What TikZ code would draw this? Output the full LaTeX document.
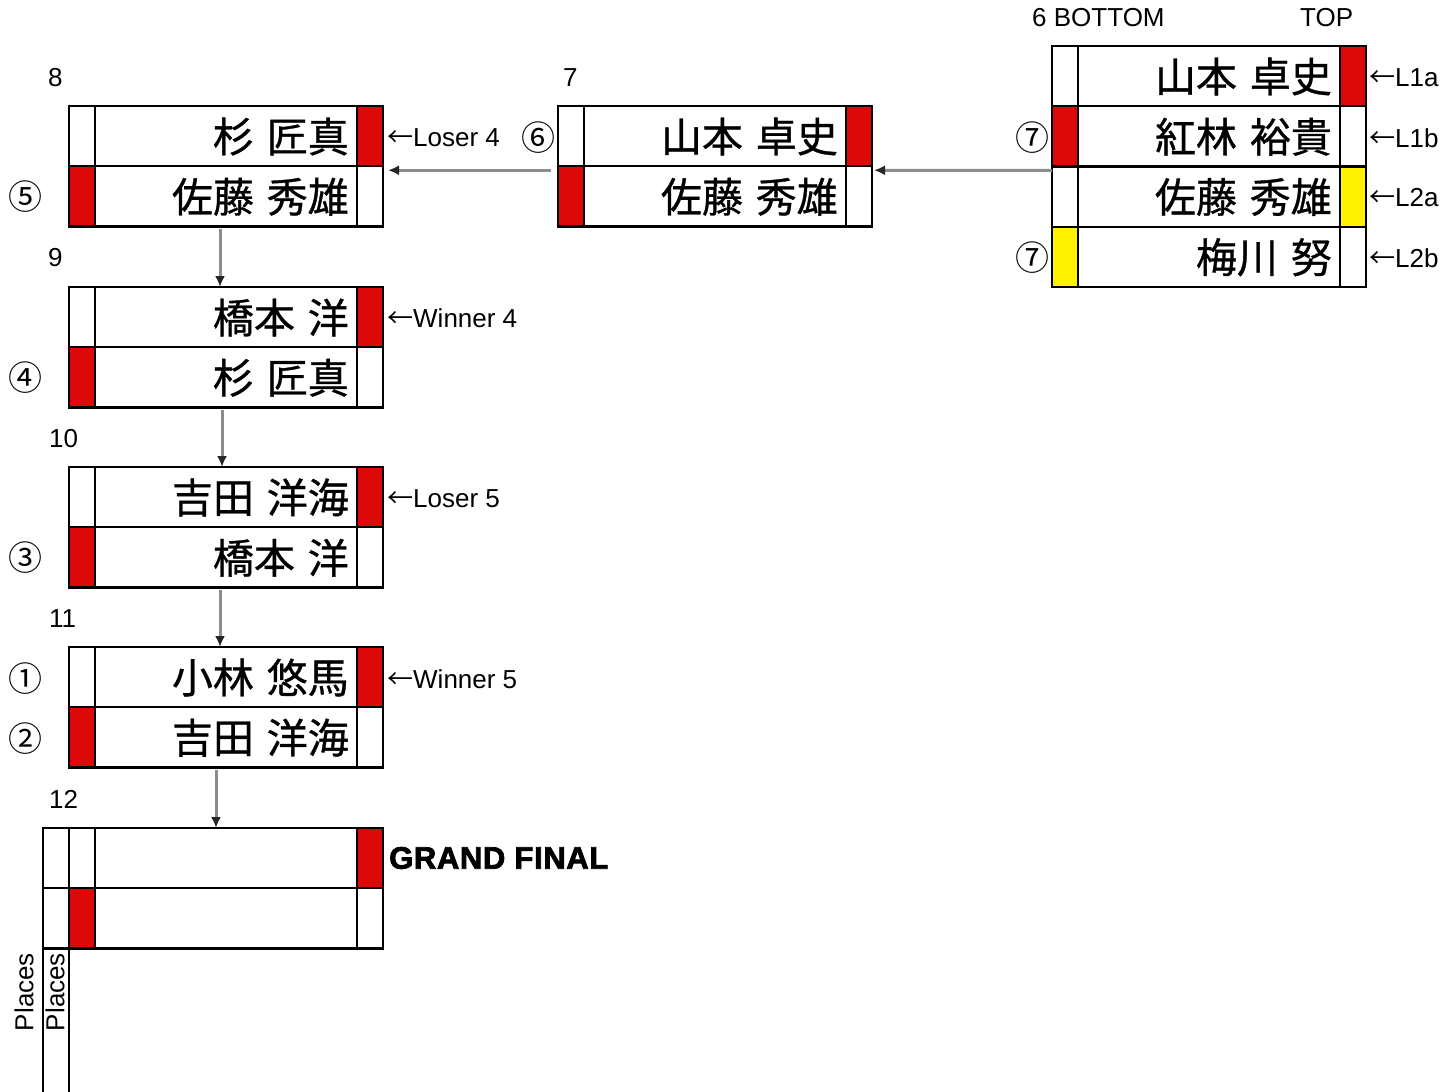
\documentclass[tikz,border=0pt]{standalone}
\usepackage{fontspec}
\setmainfont{Liberation Sans}
\newfontfamily\jpf[WordSpace=1.4,FakeBold=0.8]{Noto Sans CJK JP}
\newfontfamily\jparr{Noto Sans CJK JP}
\newfontfamily\gfbold[FakeBold=2.5,LetterSpace=2]{Liberation Sans Bold}
\usetikzlibrary{arrows.meta}
\definecolor{rd}{RGB}{221,8,8}
\definecolor{yl}{RGB}{255,242,0}
\newcommand\bracketrow[6]{%
  \fill[#4] (#2,#3) rectangle ++(26,60.25);
  \fill[#5] (#2+288,#3) rectangle ++(26,60.25);
  \draw[cellline] (#2,#3) rectangle ++(314,60.25) (#2+26,#3) -- ++(0,60.25) (#2+288,#3) -- ++(0,60.25);
  \node[nametext] (#1) at (#2+280,#3+30.5) {#6};
}
\newcommand\larr{{\jparr ←}}
\begin{document}
\begin{tikzpicture}[x=1pt,y=-1pt,
  cellline/.style={line width=2.2pt, black},
  lbl/.style={font=\fontsize{26}{26}\selectfont, inner sep=0pt},
  nametext/.style={font=\jpf\fontsize{41}{41}\selectfont, inner sep=0pt, anchor=east},
  circ/.style={font=\jparr\fontsize{34}{34}\selectfont, inner sep=0pt},
  matchbox/.style={draw, line width=2.2pt, minimum width=314pt, anchor=north west, inner sep=0pt, outer sep=0pt},
  flow/.style={draw=black!45, line width=3pt, -{Latex[length=11pt,width=10pt,color=black!85]}},
]
\useasboundingbox (0,0) rectangle (1448,1092);
\fill[white] (0,0) rectangle (1448,1092);

% Match 8
\bracketrow{n8a}{69}{106}{white}{rd}{杉 匠真}
\bracketrow{n8b}{69}{166.25}{rd}{white}{佐藤 秀雄}
\node[matchbox, minimum height=120.5pt] (m8) at (69,106) {};
% Match 7
\bracketrow{n7a}{558}{106}{white}{rd}{山本 卓史}
\bracketrow{n7b}{558}{166.25}{rd}{white}{佐藤 秀雄}
\node[matchbox, minimum height=120.5pt] (m7) at (558,106) {};
% Match 6
\bracketrow{n6a}{1052}{46}{white}{rd}{山本 卓史}
\bracketrow{n6b}{1052}{106.25}{rd}{white}{紅林 裕貴}
\bracketrow{n6c}{1052}{166.5}{white}{yl}{佐藤 秀雄}
\bracketrow{n6d}{1052}{226.75}{yl}{white}{梅川 努}
\node[matchbox, minimum height=241pt] (m6) at (1052,46) {};
% Match 9
\bracketrow{n9a}{69}{287}{white}{rd}{橋本 洋}
\bracketrow{n9b}{69}{347.25}{rd}{white}{杉 匠真}
\node[matchbox, minimum height=120.5pt] (m9) at (69,287) {};
% Match 10
\bracketrow{n10a}{69}{467}{white}{rd}{吉田 洋海}
\bracketrow{n10b}{69}{527.25}{rd}{white}{橋本 洋}
\node[matchbox, minimum height=120.5pt] (m10) at (69,467) {};
% Match 11
\bracketrow{n11a}{69}{647}{white}{rd}{小林 悠馬}
\bracketrow{n11b}{69}{707.25}{rd}{white}{吉田 洋海}
\node[matchbox, minimum height=120.5pt] (m11) at (69,647) {};
% Match 12 (grand final)
\fill[rd] (357,828) rectangle (383,888.25);
\fill[rd] (69,888.25) rectangle (95,948.5);
\node[matchbox, minimum width=340pt, minimum height=120.5pt] (m12) at (43,828) {};
\draw[cellline] (43,888.25) -- (383,888.25)
  (69,828) -- (69,948.5) (95,828) -- (95,948.5) (357,828) -- (357,948.5)
  (43,948.5) -- (43,1093) (69,948.5) -- (69,1093);

% connectors
\draw[flow, shorten <=7pt, shorten >=5pt] ([yshift=-4pt]m7.west) -- ([yshift=-4pt]m8.east);
\draw[flow, shorten >=2pt] ([yshift=-4pt]m6.west) -- ([yshift=-4pt]m7.east);
\draw[flow, shorten <=2pt] ([xshift=-6pt]m8.south) -- ([xshift=-6pt]m9.north);
\draw[flow, shorten <=2pt] ([xshift=-4pt]m9.south) -- ([xshift=-4pt]m10.north);
\draw[flow, shorten <=2pt] ([xshift=-6pt]m10.south) -- ([xshift=-6pt]m11.north);
\draw[flow, shorten <=2pt] ([xshift=-10pt]m11.south) -- ([xshift=3pt]m12.north);

% match numbers
\node[lbl, anchor=west] (t8) at (48,78) {8};
\node[lbl, anchor=west] (t7) at (563,78) {7};
\node[lbl, anchor=west] (t6) at (1032,18) {6 BOTTOM};
\node[lbl, anchor=west] (ttop) at (1300,18) {TOP};
\node[lbl, anchor=west] (t9) at (48,258) {9};
\node[lbl, anchor=west] (t10) at (49,439) {10};
\node[lbl, anchor=west] (t11) at (49,619) {11};
\node[lbl, anchor=west] (t12) at (49,799) {12};

% circled places
\node[circ] (c5) at (26,197) {⑤};
\node[circ] (c6) at (538,138) {⑥};
\node[circ] (c7a) at (1032,138) {⑦};
\node[circ] (c7b) at (1032,258) {⑦};
\node[circ] (c4) at (26,378) {④};
\node[circ] (c3) at (26,558) {③};
\node[circ] (c1) at (26,679) {①};
\node[circ] (c2) at (26,739) {②};

% side labels
\node[lbl, anchor=west] (s1) at (387,138) {\larr Loser 4};
\node[lbl, anchor=west] (s2) at (387,318) {\larr Winner 4};
\node[lbl, anchor=west] (s3) at (387,499) {\larr Loser 5};
\node[lbl, anchor=west] (s4) at (387,679) {\larr Winner 5};
\node[lbl, anchor=west] (l1) at (1369,78) {\larr L1a};
\node[lbl, anchor=west] (l2) at (1369,138) {\larr L1b};
\node[lbl, anchor=west] (l3) at (1369,198) {\larr L2a};
\node[lbl, anchor=west] (l4) at (1369,258) {\larr L2b};

\node[font=\gfbold\fontsize{31}{31}\selectfont, inner sep=0pt, anchor=west] (gf) at (389,858) {GRAND FINAL};

\node[lbl, rotate=90] (p1) at (24,992) {Places};
\node[lbl, rotate=90] (p2) at (55,992) {Places};
\end{tikzpicture}
\end{document}
